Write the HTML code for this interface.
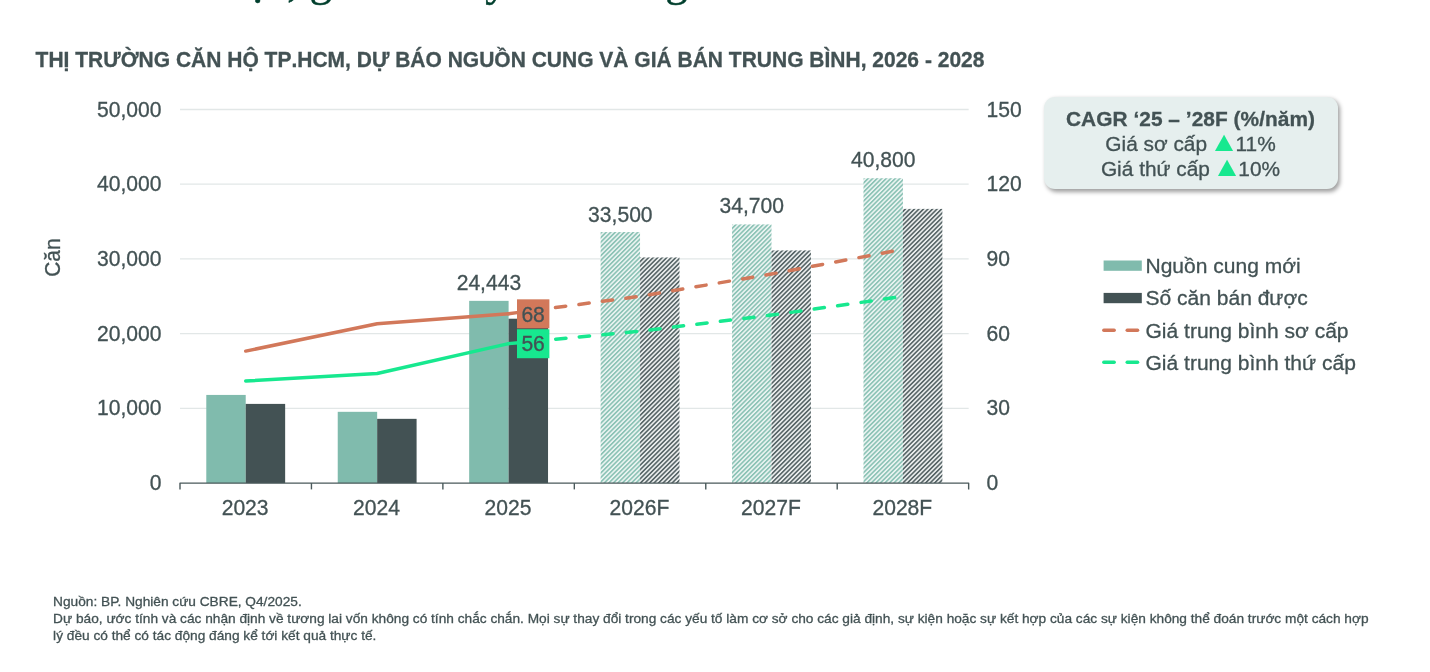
<!DOCTYPE html>
<html lang="vi">
<head>
<meta charset="utf-8">
<title>Thị trường căn hộ TP.HCM</title>
<style>
html,body{margin:0;padding:0;background:#fff;}
body{width:1430px;height:672px;overflow:hidden;position:relative;font-family:"Liberation Sans",sans-serif;color:#435254;-webkit-text-stroke:0.3px #435254;}
svg{position:absolute;left:0;top:0;}
svg text{font-family:"Liberation Sans",sans-serif;fill:#435254;stroke:#435254;stroke-width:0.3px;}
.hd{position:absolute;left:68.1px;top:-39.8px;margin:0;font-family:"Liberation Serif",serif;font-weight:normal;font-size:44px;line-height:44px;color:#003F2D;-webkit-text-stroke:0.5px #003F2D;white-space:nowrap;letter-spacing:-0.7px;word-spacing:-0.3px;}
.ttl{position:absolute;left:35.6px;top:48.4px;margin:0;font-kerning:none;font-size:21px;line-height:24px;font-weight:bold;white-space:nowrap;transform:scaleY(1.04);transform-origin:0 19.6px;}
.cagr{position:absolute;left:1044px;top:96.6px;width:293px;padding-right:1.4px;height:92.4px;background:#E6EFEE;border-radius:11px;box-shadow:2px 2.5px 4px rgba(0,0,0,0.38);text-align:center;font-size:20.85px;line-height:25px;}
.cagr b{display:block;margin-top:9.5px;letter-spacing:0.05px;}
.cagr span.t{font-family:"Liberation Sans","DejaVu Sans",sans-serif;color:#17E88F;-webkit-text-stroke:0;display:inline-block;width:22.7px;font-size:30px;line-height:0;text-align:left;vertical-align:baseline;position:relative;top:0.9px;left:-3.9px;transform:scale(1.03,0.92);}
.lg{position:absolute;left:1145.5px;font-size:21.03px;line-height:24px;white-space:nowrap;}
.ft{position:absolute;left:53.1px;top:594.3px;white-space:nowrap;font-size:13.7px;line-height:16.75px;margin:0;}
</style>
</head>
<body>
<h1 class="hd"><span style="position:relative;left:-2.2px">mới cải thiện,</span> giá bán duy trì đà tăng</h1>
<h2 class="ttl">THỊ TRƯỜNG CĂN HỘ TP.HCM, DỰ BÁO NGUỒN CUNG VÀ GIÁ BÁN TRUNG BÌNH, 2026 - 2028</h2>
<svg width="1430" height="672" viewBox="0 0 1430 672">
<defs>
<pattern id="ht" width="3.2" height="3.2" patternUnits="userSpaceOnUse" patternTransform="rotate(45)"><rect width="3.2" height="3.2" fill="#EEF6F4"/><rect width="1.7" height="3.2" fill="#8DC3B6"/></pattern>
<pattern id="hk" width="3.2" height="3.2" patternUnits="userSpaceOnUse" patternTransform="rotate(45)"><rect width="3.2" height="3.2" fill="#E9ECEC"/><rect width="1.55" height="3.2" fill="#556365"/></pattern>
</defs>

<line x1="180.0" x2="968.65" y1="408.38" y2="408.38" stroke="#E2E7E7" stroke-width="1.3"/>
<line x1="180.0" x2="968.65" y1="333.66" y2="333.66" stroke="#E2E7E7" stroke-width="1.3"/>
<line x1="180.0" x2="968.65" y1="258.94" y2="258.94" stroke="#E2E7E7" stroke-width="1.3"/>
<line x1="180.0" x2="968.65" y1="184.22" y2="184.22" stroke="#E2E7E7" stroke-width="1.3"/>
<line x1="180.0" x2="968.65" y1="109.50" y2="109.50" stroke="#E2E7E7" stroke-width="1.3"/>
<rect x="206.29" y="394.93" width="39.43" height="88.17" fill="#80BBAD"/>
<rect x="245.72" y="403.90" width="39.43" height="79.20" fill="#435254"/>
<rect x="337.73" y="411.82" width="39.43" height="71.28" fill="#80BBAD"/>
<rect x="377.16" y="418.84" width="39.43" height="64.26" fill="#435254"/>
<rect x="469.17" y="300.86" width="39.43" height="182.24" fill="#80BBAD"/>
<rect x="508.60" y="318.72" width="39.43" height="164.38" fill="#435254"/>
<rect x="600.61" y="232.04" width="39.43" height="251.06" fill="url(#ht)"/>
<rect x="640.05" y="257.45" width="39.43" height="225.65" fill="url(#hk)"/>
<rect x="732.05" y="224.42" width="39.43" height="258.68" fill="url(#ht)"/>
<rect x="771.49" y="250.42" width="39.43" height="232.68" fill="url(#hk)"/>
<rect x="863.50" y="178.24" width="39.43" height="304.86" fill="url(#ht)"/>
<rect x="902.93" y="208.88" width="39.43" height="274.22" fill="url(#hk)"/>
<path d="M180.0,489.4 V483.1 H968.65 V489.4" fill="none" stroke="#4A595B" stroke-width="1.4" stroke-linejoin="round"/>
<line x1="311.44" x2="311.44" y1="483.1" y2="489.4" stroke="#4A595B" stroke-width="1.4"/>
<line x1="442.88" x2="442.88" y1="483.1" y2="489.4" stroke="#4A595B" stroke-width="1.4"/>
<line x1="574.33" x2="574.33" y1="483.1" y2="489.4" stroke="#4A595B" stroke-width="1.4"/>
<line x1="705.77" x2="705.77" y1="483.1" y2="489.4" stroke="#4A595B" stroke-width="1.4"/>
<line x1="837.21" x2="837.21" y1="483.1" y2="489.4" stroke="#4A595B" stroke-width="1.4"/>
<polyline points="245.72,351.09 377.16,323.70 508.60,313.73" fill="none" stroke="#D2785A" stroke-width="3.5" stroke-linecap="round" stroke-linejoin="round"/>
<polyline points="508.60,313.73 640.05,296.30 771.49,274.01 902.93,249.35" fill="none" stroke="#D2785A" stroke-width="3.5" stroke-linecap="round" stroke-linejoin="round" stroke-dasharray="10.3 13.36"/>
<polyline points="245.72,380.98 377.16,373.51 508.60,343.62" fill="none" stroke="#17E88F" stroke-width="3.5" stroke-linecap="round" stroke-linejoin="round"/>
<polyline points="508.60,343.62 640.05,331.17 771.49,315.10 902.93,296.42" fill="none" stroke="#17E88F" stroke-width="3.5" stroke-linecap="round" stroke-linejoin="round" stroke-dasharray="10.3 13.36"/>
<rect x="517" y="299.33" width="32.4" height="29" fill="#D2785A"/>
<text transform="translate(533.10 321.53) scale(1 1.042)" font-size="21.1" text-anchor="middle">68</text>
<rect x="517" y="329.22" width="32.4" height="29" fill="#17E88F"/>
<text transform="translate(533.10 351.42) scale(1 1.042)" font-size="21.1" text-anchor="middle">56</text>
<text transform="translate(488.89 289.56) scale(1 1.042)" font-size="21.1" text-anchor="middle">24,443</text>
<text transform="translate(620.33 221.89) scale(1 1.042)" font-size="21.1" text-anchor="middle">33,500</text>
<text transform="translate(751.77 212.92) scale(1 1.042)" font-size="21.1" text-anchor="middle">34,700</text>
<text transform="translate(883.21 167.34) scale(1 1.042)" font-size="21.1" text-anchor="middle">40,800</text>
<text transform="translate(161.50 490.10) scale(1 1.042)" font-size="21.1" text-anchor="end">0</text>
<text transform="translate(986.50 490.10) scale(1 1.042)" font-size="21.1">0</text>
<text transform="translate(161.50 415.38) scale(1 1.042)" font-size="21.1" text-anchor="end">10,000</text>
<text transform="translate(986.50 415.38) scale(1 1.042)" font-size="21.1">30</text>
<text transform="translate(161.50 340.66) scale(1 1.042)" font-size="21.1" text-anchor="end">20,000</text>
<text transform="translate(986.50 340.66) scale(1 1.042)" font-size="21.1">60</text>
<text transform="translate(161.50 265.94) scale(1 1.042)" font-size="21.1" text-anchor="end">30,000</text>
<text transform="translate(986.50 265.94) scale(1 1.042)" font-size="21.1">90</text>
<text transform="translate(161.50 191.22) scale(1 1.042)" font-size="21.1" text-anchor="end">40,000</text>
<text transform="translate(986.50 191.22) scale(1 1.042)" font-size="21.1">120</text>
<text transform="translate(161.50 116.50) scale(1 1.042)" font-size="21.1" text-anchor="end">50,000</text>
<text transform="translate(986.50 116.50) scale(1 1.042)" font-size="21.1">150</text>
<text transform="translate(245.12 514.85) scale(1 1.042)" font-size="21.1" text-anchor="middle">2023</text>
<text transform="translate(376.56 514.85) scale(1 1.042)" font-size="21.1" text-anchor="middle">2024</text>
<text transform="translate(508.00 514.85) scale(1 1.042)" font-size="21.1" text-anchor="middle">2025</text>
<text transform="translate(639.45 514.85) scale(1 1.042)" font-size="21.1" text-anchor="middle">2026F</text>
<text transform="translate(770.89 514.85) scale(1 1.042)" font-size="21.1" text-anchor="middle">2027F</text>
<text transform="translate(902.33 514.85) scale(1 1.042)" font-size="21.1" text-anchor="middle">2028F</text>
<text transform="translate(59.6 257.6) rotate(-90) scale(1 1.02)" font-size="20.85" text-anchor="middle">Căn</text>
<rect x="1103.6" y="260.5" width="38.2" height="10.3" fill="#80BBAD"/>
<rect x="1103.6" y="292.9" width="38.2" height="10.3" fill="#435254"/>
<line x1="1103.8" x2="1114.2" y1="330.2" y2="330.2" stroke="#D2785A" stroke-width="3.4" stroke-linecap="round"/>
<line x1="1127.2" x2="1137.6" y1="330.2" y2="330.2" stroke="#D2785A" stroke-width="3.4" stroke-linecap="round"/>
<line x1="1103.8" x2="1114.2" y1="362.3" y2="362.3" stroke="#17E88F" stroke-width="3.4" stroke-linecap="round"/>
<line x1="1127.2" x2="1137.6" y1="362.3" y2="362.3" stroke="#17E88F" stroke-width="3.4" stroke-linecap="round"/>
</svg>
<div class="cagr"><b>CAGR ‘25 – ’28F (%/năm)</b>Giá sơ cấp <span class="t">▲</span>11%<br>Giá thứ cấp <span class="t">▲</span>10%</div>
<div class="lg" style="top:253.9px">Nguồn cung mới</div>
<div class="lg" style="top:286.3px">Số căn bán được</div>
<div class="lg" style="top:318.7px">Giá trung bình sơ cấp</div>
<div class="lg" style="top:350.9px">Giá trung bình thứ cấp</div>
<p class="ft">Nguồn: BP. Nghiên cứu CBRE, Q4/2025.<br>Dự báo, ước tính và các nhận định về tương lai vốn không có tính chắc chắn. Mọi sự thay đổi trong các yếu tố làm cơ sở cho các giả định, sự kiện hoặc sự kết hợp của các sự kiện không thể đoán trước một cách hợp<br>lý đều có thể có tác động đáng kể tới kết quả thực tế.</p>
</body>
</html>
